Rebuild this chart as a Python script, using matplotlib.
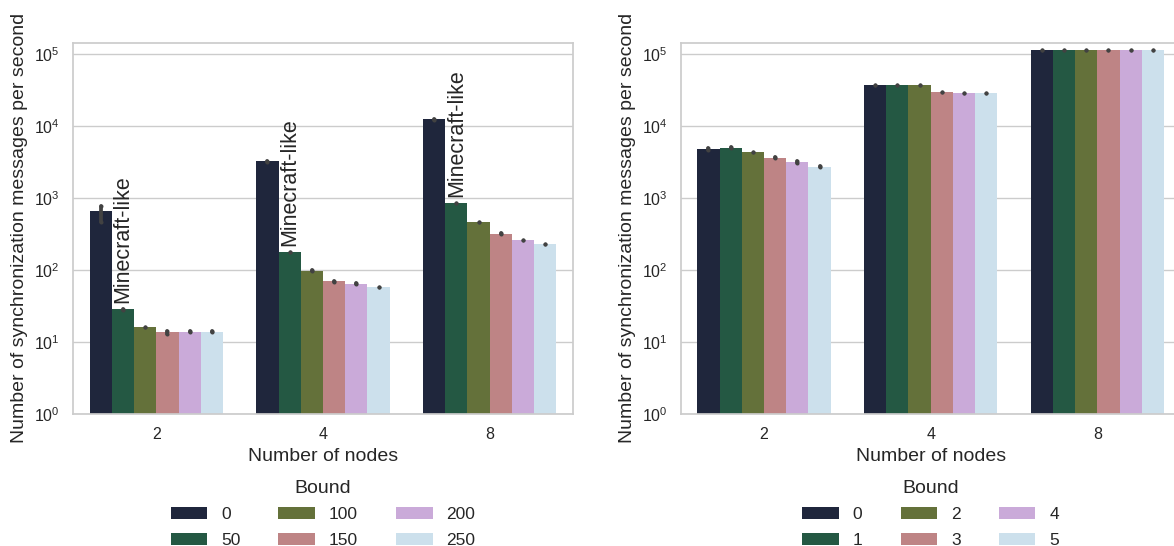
import matplotlib
matplotlib.use("Agg")
import matplotlib.pyplot as plt
import seaborn as sns

# Message rates per node count and bound (bar height = mean, lo/hi = CI)
nodes = ["2", "4", "8"]

bounds_a = ["0", "50", "100", "150", "200", "250"]
mean_a = [
    [660, 28.5, 16.2, 13.8, 13.8, 13.8],
    [3250, 178, 98, 70, 64, 58],
    [12500, 850, 464, 319, 261, 230],
]
lo_a = [
    [470, 28.2, 16.0, 12.8, 13.6, 13.6],
    [3200, 176, 97, 69, 63, 57.5],
    [12300, 840, 458, 315, 258, 227],
]
hi_a = [
    [770, 28.8, 16.4, 14.4, 14.0, 14.0],
    [3300, 180, 99, 71, 65, 58.5],
    [12700, 860, 470, 323, 264, 233],
]

bounds_b = ["0", "1", "2", "3", "4", "5"]
mean_b = [
    [4800, 4950, 4350, 3600, 3160, 2700],
    [37000, 37000, 37000, 29600, 28700, 28700],
    [113500, 113500, 113500, 113500, 113500, 113500],
]
lo_b = [
    [4700, 4870, 4300, 3550, 3050, 2660],
    [36700, 36700, 36700, 29400, 28500, 28500],
    [113000, 113000, 113000, 113000, 113000, 113000],
]
hi_b = [
    [4950, 5050, 4420, 3680, 3280, 2750],
    [37300, 37300, 37300, 29800, 28900, 28900],
    [114000, 114000, 114000, 114000, 114000, 114000],
]

# bar index in each group that carries the annotation (left panel only)
note_idx = 1
note_text = "Minecraft-like"

sns.set_theme(style="whitegrid")
plt.rcParams["font.family"] = ["Liberation Sans", "DejaVu Sans"]
plt.rcParams["path.simplify"] = False

palette = [sns.desaturate(c, 0.75) for c in sns.color_palette("cubehelix", 6)]

fig = plt.figure(figsize=(11.74, 5.46), dpi=100)
ax1 = fig.add_axes([0.0622, 0.2418, 0.4259, 0.68])
ax2 = fig.add_axes([0.5798, 0.2418, 0.4259, 0.68])


def draw(ax, bounds, means, los, his, annotate=False):
    n = len(bounds)
    w = 0.8 / n
    for j, b in enumerate(bounds):
        xs = [i + (j - (n - 1) / 2) * w for i in range(len(nodes))]
        vals = [means[i][j] for i in range(len(nodes))]
        ax.bar(xs, vals, width=w, color=palette[j], label=b, linewidth=0)
        for i, x in enumerate(xs):
            # CI line; round end markers keep very short intervals visible
            ax.plot([x, x], [los[i][j], his[i][j]], color=".26", lw=2.7,
                    solid_capstyle="round", marker="o", markersize=2.9,
                    markeredgewidth=0, zorder=3)
            if annotate and j == note_idx:
                ax.annotate(note_text, (x, vals[i]), xytext=(0, 4.5),
                            textcoords="offset points", rotation=90,
                            ha="center", va="bottom", fontsize=15.5,
                            color="#262626")
    ax.set_yscale("log")
    ax.set_ylim(1, 10 ** 5.157)
    ax.set_xlim(-0.5, len(nodes) - 0.5)
    ax.set_xticks(range(len(nodes)))
    ax.set_xticklabels(nodes)
    ax.tick_params(labelsize=11.5)
    ax.minorticks_off()
    ax.grid(axis="x", visible=False)
    ax.set_xlabel("Number of nodes", fontsize=14)
    ax.set_ylabel("Number of synchronization messages per second", fontsize=14)
    ax.legend(title="Bound", ncol=3, frameon=False, loc="upper center",
              bbox_to_anchor=(0.5, -0.135), fontsize=12.5, title_fontsize=14,
              handlelength=2.1, columnspacing=2.2, labelspacing=0.6)


draw(ax1, bounds_a, mean_a, lo_a, hi_a, annotate=True)
draw(ax2, bounds_b, mean_b, lo_b, hi_b)

fig.savefig("out.png", dpi=100)
